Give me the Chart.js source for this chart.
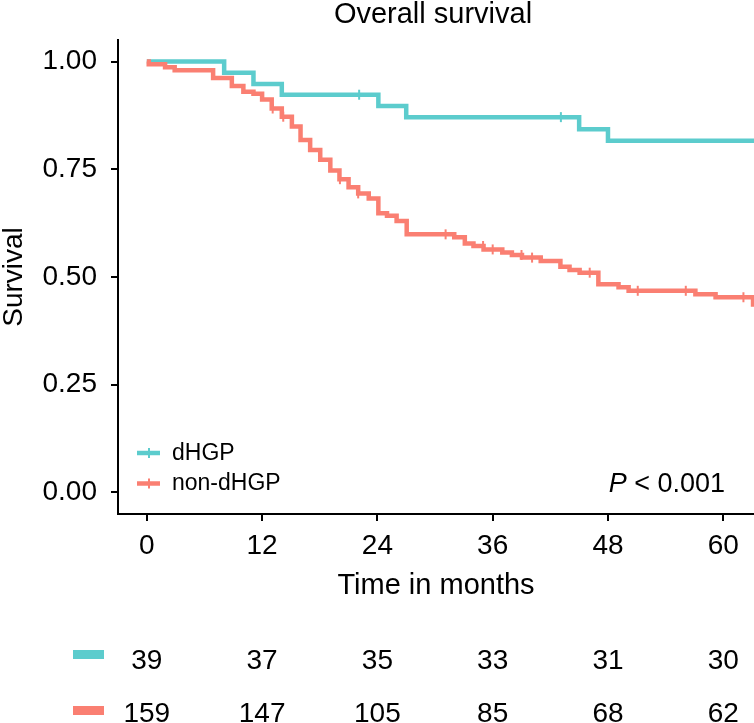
<!DOCTYPE html>
<html>
<head>
<meta charset="utf-8">
<script src="https://cdn.jsdelivr.net/npm/chart.js"></script>
<style>
  body { margin: 0; background: #fff; overflow: hidden; }
  #wrap { width: 754px; height: 723px; }
  canvas { display: block; }
</style>
</head>
<body>
<div id="wrap"><canvas id="kmChart" width="754" height="723"></canvas></div>
<script>
// Kaplan-Meier steps (time in months, survival after the step)
const dhgpTimes = [0, 8.05, 11.1, 14.05, 24.1, 27.0, 45.0, 48.0, 63.3];
const dhgpSurv  = [1.0, 0.974, 0.948, 0.923, 0.897, 0.871, 0.843, 0.816, 0.816];
const dhgpCensorTimes = [22.1, 43.1];

const nonTimes = [0, 0.2, 1.9, 2.9, 6.9, 8.85, 10.05, 11.1, 12.0, 13.0, 14.05, 15.1, 16.0, 17.0,
  18.05, 19.1, 20.05, 21.0, 22.0, 23.1, 24.1, 25.0, 26.0, 27.05, 32.0, 33.1, 34.0, 35.05, 37.0,
  38.0, 39.05, 41.0, 43.05, 44.0, 45.05, 47.0, 49.1, 50.15, 57.1, 59.2, 63.1];
const nonSurv = [1.0, 0.994, 0.987, 0.980, 0.962, 0.943, 0.930, 0.925, 0.912, 0.891, 0.872, 0.849, 0.818, 0.795,
  0.772, 0.747, 0.727, 0.708, 0.694, 0.682, 0.648, 0.642, 0.630, 0.599, 0.592, 0.578, 0.572, 0.564, 0.557,
  0.551, 0.545, 0.537, 0.524, 0.516, 0.510, 0.483, 0.476, 0.468, 0.460, 0.453, 0.431];
const nonCensorTimes = [13.1, 14.2, 20.1, 22.0, 31.1, 35.0, 36.0, 39.0, 40.1, 46.1, 51.1, 56.1, 62.1];

const groupLabels = ['dHGP', 'non-dHGP'];
const xTicks = [0, 12, 24, 36, 48, 60];
const yTicks = [0, 0.25, 0.5, 0.75, 1.0];

// numbers at risk
const riskTimes = [0, 12, 24, 36, 48, 60];
const dhgpRisk = [39, 37, 35, 33, 31, 30];
const nonRisk = [159, 147, 105, 85, 68, 62];

const pText = '< 0.001';

const TEAL = '#5ccccd';
const SALMON = '#fa7f72';
const FONT = '"Liberation Sans", Arial, Helvetica, sans-serif';

function toPoints(times, surv) {
    return times.map((t, i) => ({ x: t, y: surv[i] }));
}

// survival level at time t (for placing censor ticks on the curve)
function levelAt(times, surv, t) {
    let s = surv[0];
    for (let i = 0; i < times.length; i++) {
        if (times[i] <= t) s = surv[i];
    }
    return s;
}

function censorPoints(times, surv, cens) {
    return cens.map(t => ({ x: t, y: levelAt(times, surv, t) }));
}

const extras = {
    id: 'extras',
    afterDraw(chart) {
        const ctx = chart.ctx;
        const xs = chart.scales.x;
        ctx.save();

        // title
        ctx.fillStyle = '#000';
        ctx.font = `29px ${FONT}`;
        ctx.textAlign = 'center';
        ctx.textBaseline = 'alphabetic';
        ctx.fillText('Overall survival', 433, 23);

        // legend inside plot
        const keys = [[TEAL, 453], [SALMON, 483.5]];
        keys.forEach(([col, y], i) => {
            ctx.strokeStyle = col;
            ctx.lineWidth = 4.5;
            ctx.beginPath();
            ctx.moveTo(137, y);
            ctx.lineTo(160, y);
            ctx.stroke();
            ctx.lineWidth = 2;
            ctx.beginPath();
            ctx.moveTo(149, y - 5);
            ctx.lineTo(149, y + 5);
            ctx.stroke();
            ctx.fillStyle = '#000';
            ctx.font = `23px ${FONT}`;
            ctx.textAlign = 'left';
            ctx.textBaseline = 'middle';
            ctx.fillText(groupLabels[i], 172, y + 0.5);
        });

        // p value, right aligned
        ctx.textBaseline = 'alphabetic';
        ctx.font = `27px ${FONT}`;
        const restW = ctx.measureText(' ' + pText).width;
        ctx.font = `italic 27px ${FONT}`;
        const pW = ctx.measureText('P').width;
        const right = 725;
        ctx.textAlign = 'left';
        ctx.fillText('P', right - restW - pW, 491.5);
        ctx.font = `27px ${FONT}`;
        ctx.fillText(' ' + pText, right - restW, 491.5);

        // risk table
        const rows = [[TEAL, dhgpRisk, 668.5, 650], [SALMON, nonRisk, 722, 706]];
        rows.forEach(([col, vals, base, rectY]) => {
            ctx.fillStyle = col;
            ctx.fillRect(73, rectY, 31, 9);
            ctx.fillStyle = '#000';
            ctx.font = `28px ${FONT}`;
            ctx.textAlign = 'center';
            vals.forEach((v, i) => {
                ctx.fillText(String(v), xs.getPixelForValue(riskTimes[i]), base);
            });
        });

        ctx.restore();
    }
};

const lineBase = {
    type: 'line',
    stepped: true,
    pointRadius: 0,
    borderWidth: 4.5,
    fill: false,
    tension: 0,
    borderCapStyle: 'butt',
    borderJoinStyle: 'miter'
};

const censorBase = {
    type: 'scatter',
    showLine: false,
    pointStyle: 'line',
    rotation: 90,
    pointRadius: 5,
    pointBorderWidth: 2
};

new Chart(document.getElementById('kmChart'), {
    type: 'line',
    data: {
        datasets: [
            Object.assign({}, censorBase, {
                data: censorPoints(nonTimes, nonSurv, nonCensorTimes),
                borderColor: SALMON, pointBorderColor: SALMON, backgroundColor: SALMON
            }),
            Object.assign({}, lineBase, {
                label: groupLabels[1],
                data: toPoints(nonTimes, nonSurv),
                borderColor: SALMON
            }),
            Object.assign({}, censorBase, {
                data: censorPoints(dhgpTimes, dhgpSurv, dhgpCensorTimes),
                borderColor: TEAL, pointBorderColor: TEAL, backgroundColor: TEAL
            }),
            Object.assign({}, lineBase, {
                label: groupLabels[0],
                data: toPoints(dhgpTimes, dhgpSurv),
                borderColor: TEAL
            })
        ]
    },
    options: {
        responsive: false,
        animation: false,
        devicePixelRatio: 1,
        layout: { autoPadding: false, padding: { left: 0, right: 0, top: 40, bottom: 109 } },
        plugins: {
            legend: { display: false },
            tooltip: { enabled: false },
            title: { display: false }
        },
        scales: {
            x: {
                type: 'linear',
                min: -3,
                max: 63.2,
                afterBuildTicks: s => { s.ticks = xTicks.map(v => ({ value: v })); },
                afterFit: s => { s.height = 100; s.paddingLeft = 0; s.paddingRight = 0; },
                ticks: {
                    color: '#000',
                    font: { family: FONT, size: 28 },
                    padding: 8.5,
                    maxRotation: 0,
                    autoSkip: false
                },
                grid: {
                    display: true,
                    drawOnChartArea: false,
                    drawTicks: true,
                    tickLength: 7,
                    color: '#000',
                    lineWidth: 2
                },
                border: { display: true, color: '#000', width: 2 },
                title: {
                    display: true,
                    text: 'Time in months',
                    color: '#000',
                    font: { family: FONT, size: 29, lineHeight: 1.2 },
                    padding: { top: 0, bottom: 11 }
                }
            },
            y: {
                type: 'linear',
                min: -0.05,
                max: 1.05,
                afterBuildTicks: s => { s.ticks = yTicks.map(v => ({ value: v })); },
                afterFit: s => { s.width = 118; s.paddingTop = 0; s.paddingBottom = 0; },
                ticks: {
                    color: '#000',
                    font: { family: FONT, size: 28 },
                    padding: 14,
                    callback: v => Number(v).toFixed(2)
                },
                grid: {
                    display: true,
                    drawOnChartArea: false,
                    drawTicks: true,
                    tickLength: 7,
                    color: '#000',
                    lineWidth: 2
                },
                border: { display: true, color: '#000', width: 2 },
                title: {
                    display: true,
                    text: 'Survival',
                    color: '#000',
                    font: { family: FONT, size: 28, lineHeight: 1 },
                    padding: { top: 0, bottom: 0 }
                }
            }
        }
    },
    plugins: [extras]
});
</script>
</body>
</html>
